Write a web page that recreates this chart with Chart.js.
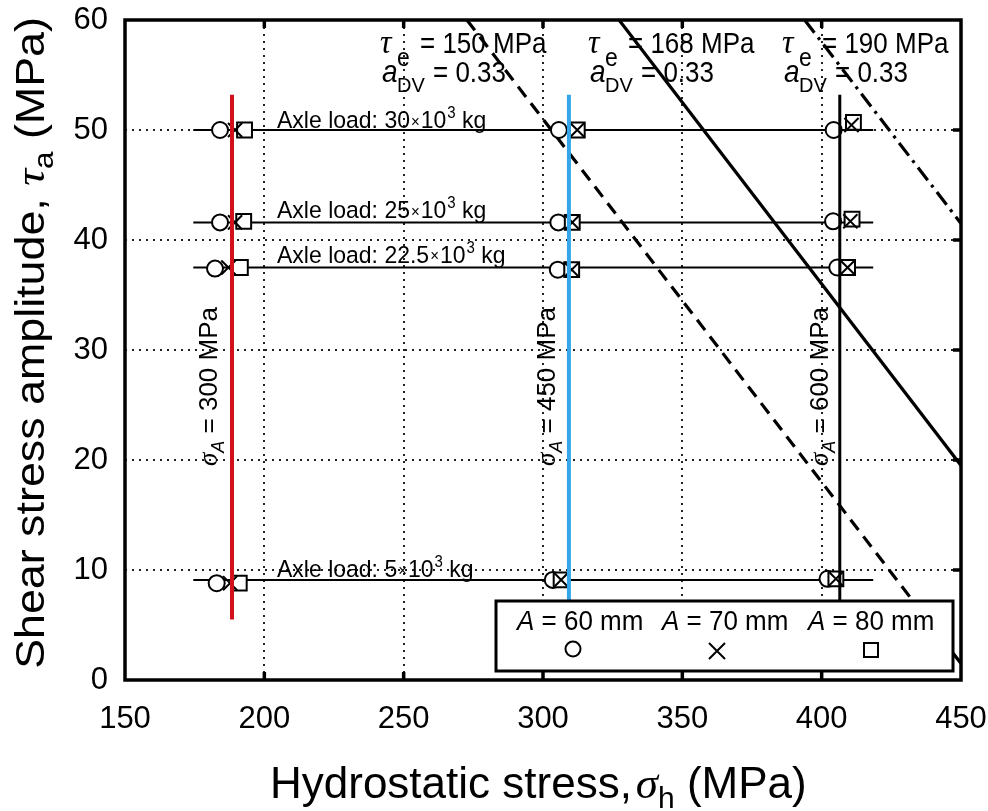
<!DOCTYPE html>
<html><head><meta charset="utf-8">
<script src="https://cdn.jsdelivr.net/npm/chart.js@4/dist/chart.umd.min.js"></script>
<style>html,body{margin:0;padding:0;background:#fff}#wrap{width:988px;height:811px}</style>
</head><body><div id="wrap"><canvas id="c" width="988" height="811"></canvas></div>
<script>
// ---------- data ----------
const xTicks = [150, 200, 250, 300, 350, 400, 450];
const yTicks = [0, 10, 20, 30, 40, 50, 60];

const axleLoadLabels = ['30', '25', '22.5', '5'];
const axleTau = [50.0, 41.6, 37.5, 9.1];
const axleSigmaRange = [174.5, 418.5];

const sigmaALabels = ['300', '450', '600'];
const sigmaAPos = [188.4, 309.3, 406.5];
const sigmaALineRange = [5.5, 53.2];

const tauELabels = ['150', '168', '190'];
const aDVLabel = '0.33';
const dv150_x = [272.7, 450], dv150_y = [60, 1.5];
const dv168_x = [327.3, 450], dv168_y = [60, 19.5];
const dv190_x = [393.9, 450], dv190_y = [60, 41.5];

// markers: groups sigmaA 300 / 450 / 600, axle load 30, 25, 22.5, 5
const a60_x = [184.1, 184.1, 182.3, 182.9, 305.7, 305.5, 305.3, 303.5, 404.3, 404.1, 405.6, 402.1];
const a60_y = [50.0, 41.6, 37.4, 8.8, 50.0, 41.6, 37.3, 9.1, 50.0, 41.7, 37.5, 9.2];
const a70_x = [189.5, 189.5, 187.1, 187.7, 312.3, 310.5, 310.3, 306.5, 410.7, 410.3, 409.3, 405.1];
const a70_y = [50.0, 41.6, 37.5, 8.8, 50.0, 41.6, 37.3, 9.1, 50.45, 41.7, 37.5, 9.2];
const a80_x = [192.9, 192.6, 191.4, 191.0, 312.3, 310.5, 310.3, 306.5, 411.4, 410.9, 409.3, 405.1];
const a80_y = [50.0, 41.7, 37.5, 8.8, 50.0, 41.6, 37.3, 9.1, 50.7, 41.9, 37.5, 9.2];
const legendLabels = ['60', '70', '80'];

// ---------- styles ----------
const SANS = "'Liberation Sans', Arial, Helvetica, sans-serif";
const SERIF = "'Liberation Serif', 'Times New Roman', serif";
const vColors = ['#d2101c', '#33a6e8', '#000000'];

const pts = (xs, ys) => xs.map((x, i) => ({x, y: ys[i]}));

const datasets = [];
axleTau.forEach((t) => datasets.push({
  data: pts(axleSigmaRange, [t, t]), showLine: true, borderColor: '#000', borderWidth: 2,
  pointRadius: 0, order: 6
}));
datasets.push({data: pts(dv150_x, dv150_y), showLine: true, borderColor: '#000', borderWidth: 3.2, borderDash: [13, 8], pointRadius: 0, order: 5});
datasets.push({data: pts(dv168_x, dv168_y), showLine: true, borderColor: '#000', borderWidth: 3.2, pointRadius: 0, order: 5});
datasets.push({data: pts(dv190_x, dv190_y), showLine: true, borderColor: '#000', borderWidth: 3.2, borderDash: [16, 6, 3, 6], pointRadius: 0, order: 5});
datasets.push({data: pts(a60_x, a60_y), showLine: false, pointStyle: 'circle', pointRadius: 8, backgroundColor: '#fff', borderColor: '#000', borderWidth: 2, order: 4});
datasets.push({data: pts(a80_x, a80_y), showLine: false, pointStyle: 'rect', pointRadius: 10.5, backgroundColor: '#fff', borderColor: '#000', borderWidth: 2, order: 3});
datasets.push({data: pts(a70_x, a70_y), showLine: false, pointStyle: 'crossRot', pointRadius: 10, borderColor: '#000', borderWidth: 2, order: 2});
sigmaAPos.forEach((s, i) => datasets.push({
  data: pts([s, s], sigmaALineRange), showLine: true, borderColor: vColors[i], borderWidth: i === 2 ? 3 : 4,
  pointRadius: 0, order: 1
}));

// draw a sequence of text runs; sx/sy stretch along/across the text direction
function runs(ctx, x, y, parts, sx, sy) {
  sx = sx || 1; sy = sy || 1;
  ctx.save();
  ctx.translate(x, y);
  ctx.scale(sx, sy);
  let cx = 0;
  for (const p of parts) {
    ctx.font = p[1];
    ctx.fillText(p[0], cx + (p[3] || 0), (p[2] || 0));
    cx += ctx.measureText(p[0]).width + (p[3] || 0);
  }
  ctx.restore();
  return cx * sx;
}
function measure(ctx, parts) {
  let w = 0;
  for (const p of parts) { ctx.font = p[1]; w += ctx.measureText(p[0]).width + (p[3] || 0); }
  return w;
}
function stext(ctx, t, x, y, font, sy) {
  ctx.save(); ctx.translate(x, y); ctx.scale(1, sy || 1); ctx.font = font; ctx.fillText(t, 0, 0); ctx.restore();
}

const deco = {
  id: 'deco',
  afterDatasetsDraw(chart) {
    const ctx = chart.ctx, xs = chart.scales.x, ys = chart.scales.y, a = chart.chartArea;
    ctx.save();
    ctx.fillStyle = '#000';
    ctx.textBaseline = 'alphabetic';
    ctx.textAlign = 'left';

    // tau_e / a_DV annotations
    const tauAnchor = [380, 588, 782];
    tauELabels.forEach((v, i) => {
      const A = tauAnchor[i];
      stext(ctx, 'τ', A, 53, 'italic 32px ' + SERIF, 1.05);
      stext(ctx, 'e', A + 17, 66, '23px ' + SANS, 1.1);
      stext(ctx, '= ' + v + ' MPa', A + 40, 53, '26px ' + SANS, 1.12);
      stext(ctx, 'a', A + 2, 82, 'italic 28px ' + SANS, 1.1);
      stext(ctx, 'DV', A + 17, 92, '20px ' + SANS, 1.05);
      stext(ctx, '= ' + aDVLabel, A + 53, 82, '26px ' + SANS, 1.12);
    });

    // axle load labels
    const axleBase = [-2, -4.5, -5, -3];
    axleLoadLabels.forEach((v, i) => {
      const y = ys.getPixelForValue(axleTau[i]) + axleBase[i];
      runs(ctx, 277, y, [
        ['Axle load: ' + v, '23px ' + SANS],
        ['×', '15px ' + SANS, -1, 1],
        ['10', '23px ' + SANS, 0, 1],
        ['3', '15px ' + SANS, -9, 1],
        [' kg', '23px ' + SANS]
      ], 1, 1.06);
    });

    // sigma_A rotated labels
    const sAbase = [217, 555, 828];
    sigmaALabels.forEach((v, i) => {
      ctx.save();
      ctx.translate(sAbase[i], 466);
      ctx.rotate(-Math.PI / 2);
      runs(ctx, 0, 0, [
        ['σ', 'italic 27px ' + SERIF],
        ['A', 'italic 18px ' + SANS, 7],
        [' = ' + v + ' MPa', '26px ' + SANS]
      ]);
      ctx.restore();
    });

    // legend box
    ctx.fillStyle = '#fff';
    ctx.fillRect(496, 601, 457, 70);
    ctx.lineWidth = 3; ctx.strokeStyle = '#000';
    ctx.strokeRect(496, 601, 457, 70);
    ctx.fillStyle = '#000';
    const lx = [517, 662, 808];
    legendLabels.forEach((v, i) => {
      runs(ctx, lx[i], 630, [['A', 'italic 26px ' + SANS], [' = ' + v + ' mm', '26px ' + SANS]], 1, 1.05);
    });
    ctx.lineWidth = 2;
    ctx.beginPath(); ctx.arc(573, 649, 7.5, 0, Math.PI * 2); ctx.stroke();
    ctx.beginPath(); ctx.moveTo(709, 643); ctx.lineTo(725, 659); ctx.moveTo(725, 643); ctx.lineTo(709, 659); ctx.stroke();
    ctx.strokeRect(864, 643, 14, 14);

    // frame
    ctx.lineWidth = 3.5;
    ctx.strokeRect(a.left, a.top, a.right - a.left, a.bottom - a.top);
    // inward ticks
    ctx.beginPath();
    xTicks.slice(1, -1).forEach(t => {
      const px = xs.getPixelForValue(t);
      ctx.moveTo(px, a.top); ctx.lineTo(px, a.top + 8);
      ctx.moveTo(px, a.bottom); ctx.lineTo(px, a.bottom - 8);
    });
    yTicks.slice(1, -1).forEach(t => {
      const py = ys.getPixelForValue(t);
      ctx.moveTo(a.right, py); ctx.lineTo(a.right - 8, py);
    });
    ctx.stroke();

    // axis titles
    const yParts = [
      ['Shear stress amplitude, ', '40px ' + SANS],
      ['τ', 'italic 42px ' + SERIF],
      ['a', '28px ' + SANS, 9],
      [' (MPa)', '40px ' + SANS]
    ];
    const yw = measure(ctx, yParts) * 1.12;
    ctx.save();
    ctx.translate(44, 343 + yw / 2);
    ctx.rotate(-Math.PI / 2);
    runs(ctx, 0, 0, yParts, 1.12, 1);
    ctx.restore();

    runs(ctx, 270, 798, [
      ['Hydrostatic stress,', '44px ' + SANS],
      ['σ', 'italic 45px ' + SERIF, 0, 4],
      ['h', '30px ' + SANS, 10],
      [' (MPa)', '44px ' + SANS]
    ]);
    ctx.restore();
  }
};

const gridColor = (ctx, lo, hi) => (ctx.tick && (ctx.tick.value === lo || ctx.tick.value === hi)) ? 'rgba(0,0,0,0)' : '#222';

new Chart(document.getElementById('c'), {
  type: 'scatter',
  data: {datasets},
  options: {
    responsive: false,
    animation: false,
    devicePixelRatio: 1,
    layout: {padding: {left: 0, right: 27, top: 20, bottom: 0}},
    plugins: {legend: {display: false}, tooltip: {enabled: false}},
    scales: {
      x: {
        type: 'linear', min: 150, max: 450,
        afterBuildTicks: s => { s.ticks = xTicks.map(v => ({value: v})); },
        afterFit: s => { s.height = 131; s.paddingLeft = s.paddingRight = s.paddingTop = s.paddingBottom = 0; },
        ticks: {font: {size: 31, family: SANS}, color: '#000', padding: 21, maxRotation: 0, autoSkip: false},
        grid: {drawTicks: false, lineWidth: 2, color: c => gridColor(c, 150, 450)},
        border: {display: false, dash: [2, 5]}
      },
      y: {
        type: 'linear', min: 0, max: 60,
        afterBuildTicks: s => { s.ticks = yTicks.map(v => ({value: v})); },
        afterFit: s => { s.width = 125; s.paddingLeft = s.paddingRight = s.paddingTop = s.paddingBottom = 0; },
        ticks: {font: {size: 31, family: SANS}, color: '#000', padding: 17, autoSkip: false},
        grid: {drawTicks: false, lineWidth: 2, color: c => gridColor(c, 0, 60)},
        border: {display: false, dash: [2, 5]}
      }
    }
  },
  plugins: [deco]
});
</script>
</body></html>
